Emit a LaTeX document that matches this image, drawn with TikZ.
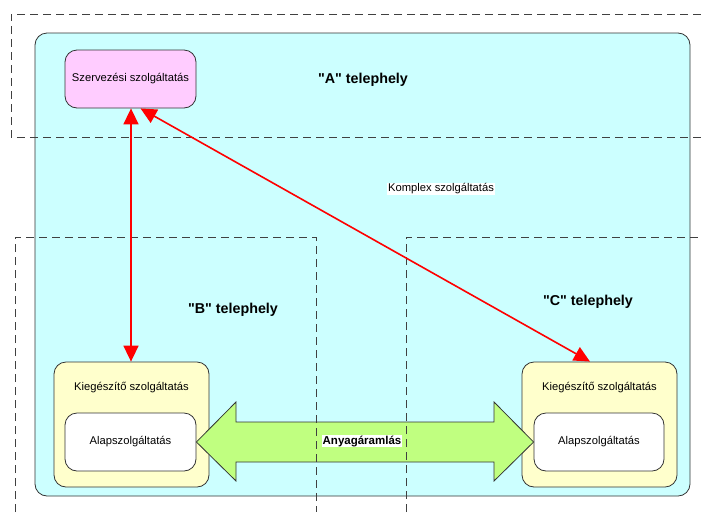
\documentclass[tikz,border=0pt]{standalone}
\usepackage{fontspec}
\setmainfont{Liberation Sans}[Ligatures=TeXOff]
\usetikzlibrary{arrows.meta,calc}
\definecolor{complexfill}{HTML}{CCFFFF}
\definecolor{orgfill}{HTML}{FFCCFF}
\definecolor{extrafill}{HTML}{FFFFCC}
\definecolor{flowfill}{HTML}{C0FF80}
\definecolor{edge}{HTML}{333333}
\definecolor{zone}{HTML}{404040}
\tikzset{
  box/.style={draw=edge, line width=0.8pt, rounded corners=12pt, inner sep=0pt},
  zoneline/.style={draw=zone, line width=0.8pt, dash pattern=on 8pt off 5pt},
  sitelabel/.style={font=\fontsize{14.3}{16}\selectfont\bfseries},
  small/.style={font=\fontsize{11.2}{13}\selectfont},
  link/.style={draw=red, line width=1.6pt, {Triangle[width=15pt,length=16pt]}-{Triangle[width=15pt,length=16pt]}},
}
\begin{document}
\begin{tikzpicture}[x=1pt,y=-1pt]
\useasboundingbox (0,0) rectangle (701,512);
\fill[white] (0,0) rectangle (701,512);

% complex service area
\node[box, fill=complexfill, minimum width=655pt, minimum height=463pt] (complex) at (362.5,264.5) {};

% organisational service
\node[box, fill=orgfill, minimum width=131pt, minimum height=58pt, small] (org) at (130.5,79) {Szervezési szolgáltatás};

% site B services
\node[box, fill=extrafill, minimum width=155pt, minimum height=125pt] (extraB) at (131.5,424.5) {};
\node[small] (extraBlabel) at (131.5,388) {Kiegészítő szolgáltatás};
\node[box, fill=white, minimum width=131pt, minimum height=58pt, small] (baseB) at (130.5,442) {Alapszolgáltatás};

% site C services
\node[box, fill=extrafill, minimum width=155pt, minimum height=125pt] (extraC) at (599.5,424.5) {};
\node[small] (extraClabel) at (599.5,388) {Kiegészítő szolgáltatás};
\node[box, fill=white, minimum width=130pt, minimum height=58pt, small] (baseC) at (599,442) {Alapszolgáltatás};

% material flow between the sites
\draw[draw=edge, line width=0.8pt, fill=flowfill]
  (baseB.east) -- (236,402) -- (236,422) -- (494,422) -- (494,402)
  -- (baseC.west) -- (494,481) -- (494,462) -- (236,462) -- (236,481) -- cycle;

% site boundaries
\draw[zoneline] (701,14) -- (11,14) -- (11,137) -- (701,137);
\draw[zoneline] (15,512) -- (15,237) -- (316,237) -- (316,512);
\draw[zoneline] (406,512) -- (406,237) -- (701,237);

% labels
\node[sitelabel] (siteA) at (363,80) {"A" telephely};
\node[sitelabel] (siteB) at (233,310) {"B" telephely};
\node[sitelabel] (siteC) at (588,302) {"C" telephely};
\node[small, fill=white, inner sep=1pt] (complexlabel) at (441,189) {Komplex szolgáltatás};
\node[font=\fontsize{11.5}{13}\selectfont\bfseries, fill=white, inner sep=1pt] (flowlabel) at (362,441) {Anyagáramlás};

% information links
\coordinate (orgB) at ($(org.south)+(0.5,0)$);
\coordinate (orgC) at ($(org.south)+(10,0)$);
\coordinate (topC) at ($(extraC.north)+(-9.5,0)$);
\draw[link] (orgB) -- (orgB |- extraB.north);
\draw[link] (orgC) -- (topC);
\end{tikzpicture}
\end{document}
